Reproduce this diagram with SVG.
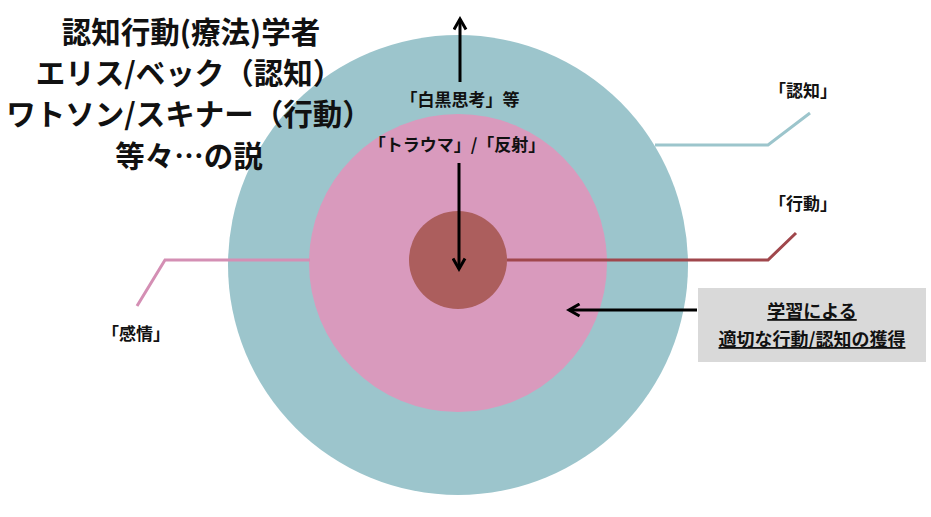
<svg xmlns="http://www.w3.org/2000/svg" width="931" height="517" viewBox="0 0 931 517">
<style>
text{font-family:"Noto Sans CJK JP","Noto Sans",sans-serif;font-weight:bold;fill:#111}
.t{font-size:29.5px;text-anchor:middle}
.s{font-size:17px;text-anchor:middle}
.n{font-size:18px;text-anchor:middle;text-decoration:underline}
.ln{fill:none;stroke-width:3}
.ar{stroke:#000;stroke-width:3;fill:none}
</style>
<defs><marker id="a" viewBox="0 0 10 10" refX="8" refY="5" markerWidth="5" markerHeight="5" orient="auto"><path d="M1,1L8,5L1,9" fill="none" stroke="#000" stroke-width="2"/></marker></defs>
<rect width="931" height="517" fill="#fff"/>
<g id="outer"><circle cx="458" cy="265" r="230" fill="#9cc5cc"/></g>
<g id="middle"><circle cx="458" cy="263" r="149" fill="#d99abd"/></g>
<g id="inner"><circle cx="458" cy="260" r="49" fill="#ac5e5d"/></g>
<g id="connectors">
<polyline class="ln" stroke="#9cc5cc" points="655,145 768,145 810,113"/>
<polyline class="ln" stroke="#a0474c" points="507,260 768,260 796,233"/>
<polyline class="ln" stroke="#d48fb4" points="310,260 165,260 137,306"/>
<line class="ar" x1="460" y1="82" x2="460" y2="19" marker-end="url(#a)"/>
<line class="ar" x1="459" y1="163" x2="459" y2="269" marker-end="url(#a)"/>
<line class="ar" x1="697" y1="310" x2="569" y2="310" marker-end="url(#a)"/>
</g>
<g id="title">
<text class="t" x="191" y="43">認知行動(療法)学者</text>
<text class="t" x="189" y="84">エリス/ベック（認知）</text>
<text class="t" x="189" y="125">ワトソン/スキナー（行動）</text>
<text class="t" x="189" y="167">等々…の説</text>
</g>
<g id="labels">
<text class="s" x="460" y="106">「白黒思考」等</text>
<text class="s" x="457" y="151">「トラウマ」/「反射」</text>
<text class="s" x="803" y="97">「認知」</text>
<text class="s" x="803" y="210">「行動」</text>
<text class="s" x="136" y="340">「感情」</text>
</g>
<g id="note">
<rect x="698" y="288" width="228" height="74" fill="#d9d9d9"/>
<text class="n" x="812" y="318">学習による</text>
<text class="n" x="812" y="346">適切な行動/認知の獲得</text>
</g>
</svg>
